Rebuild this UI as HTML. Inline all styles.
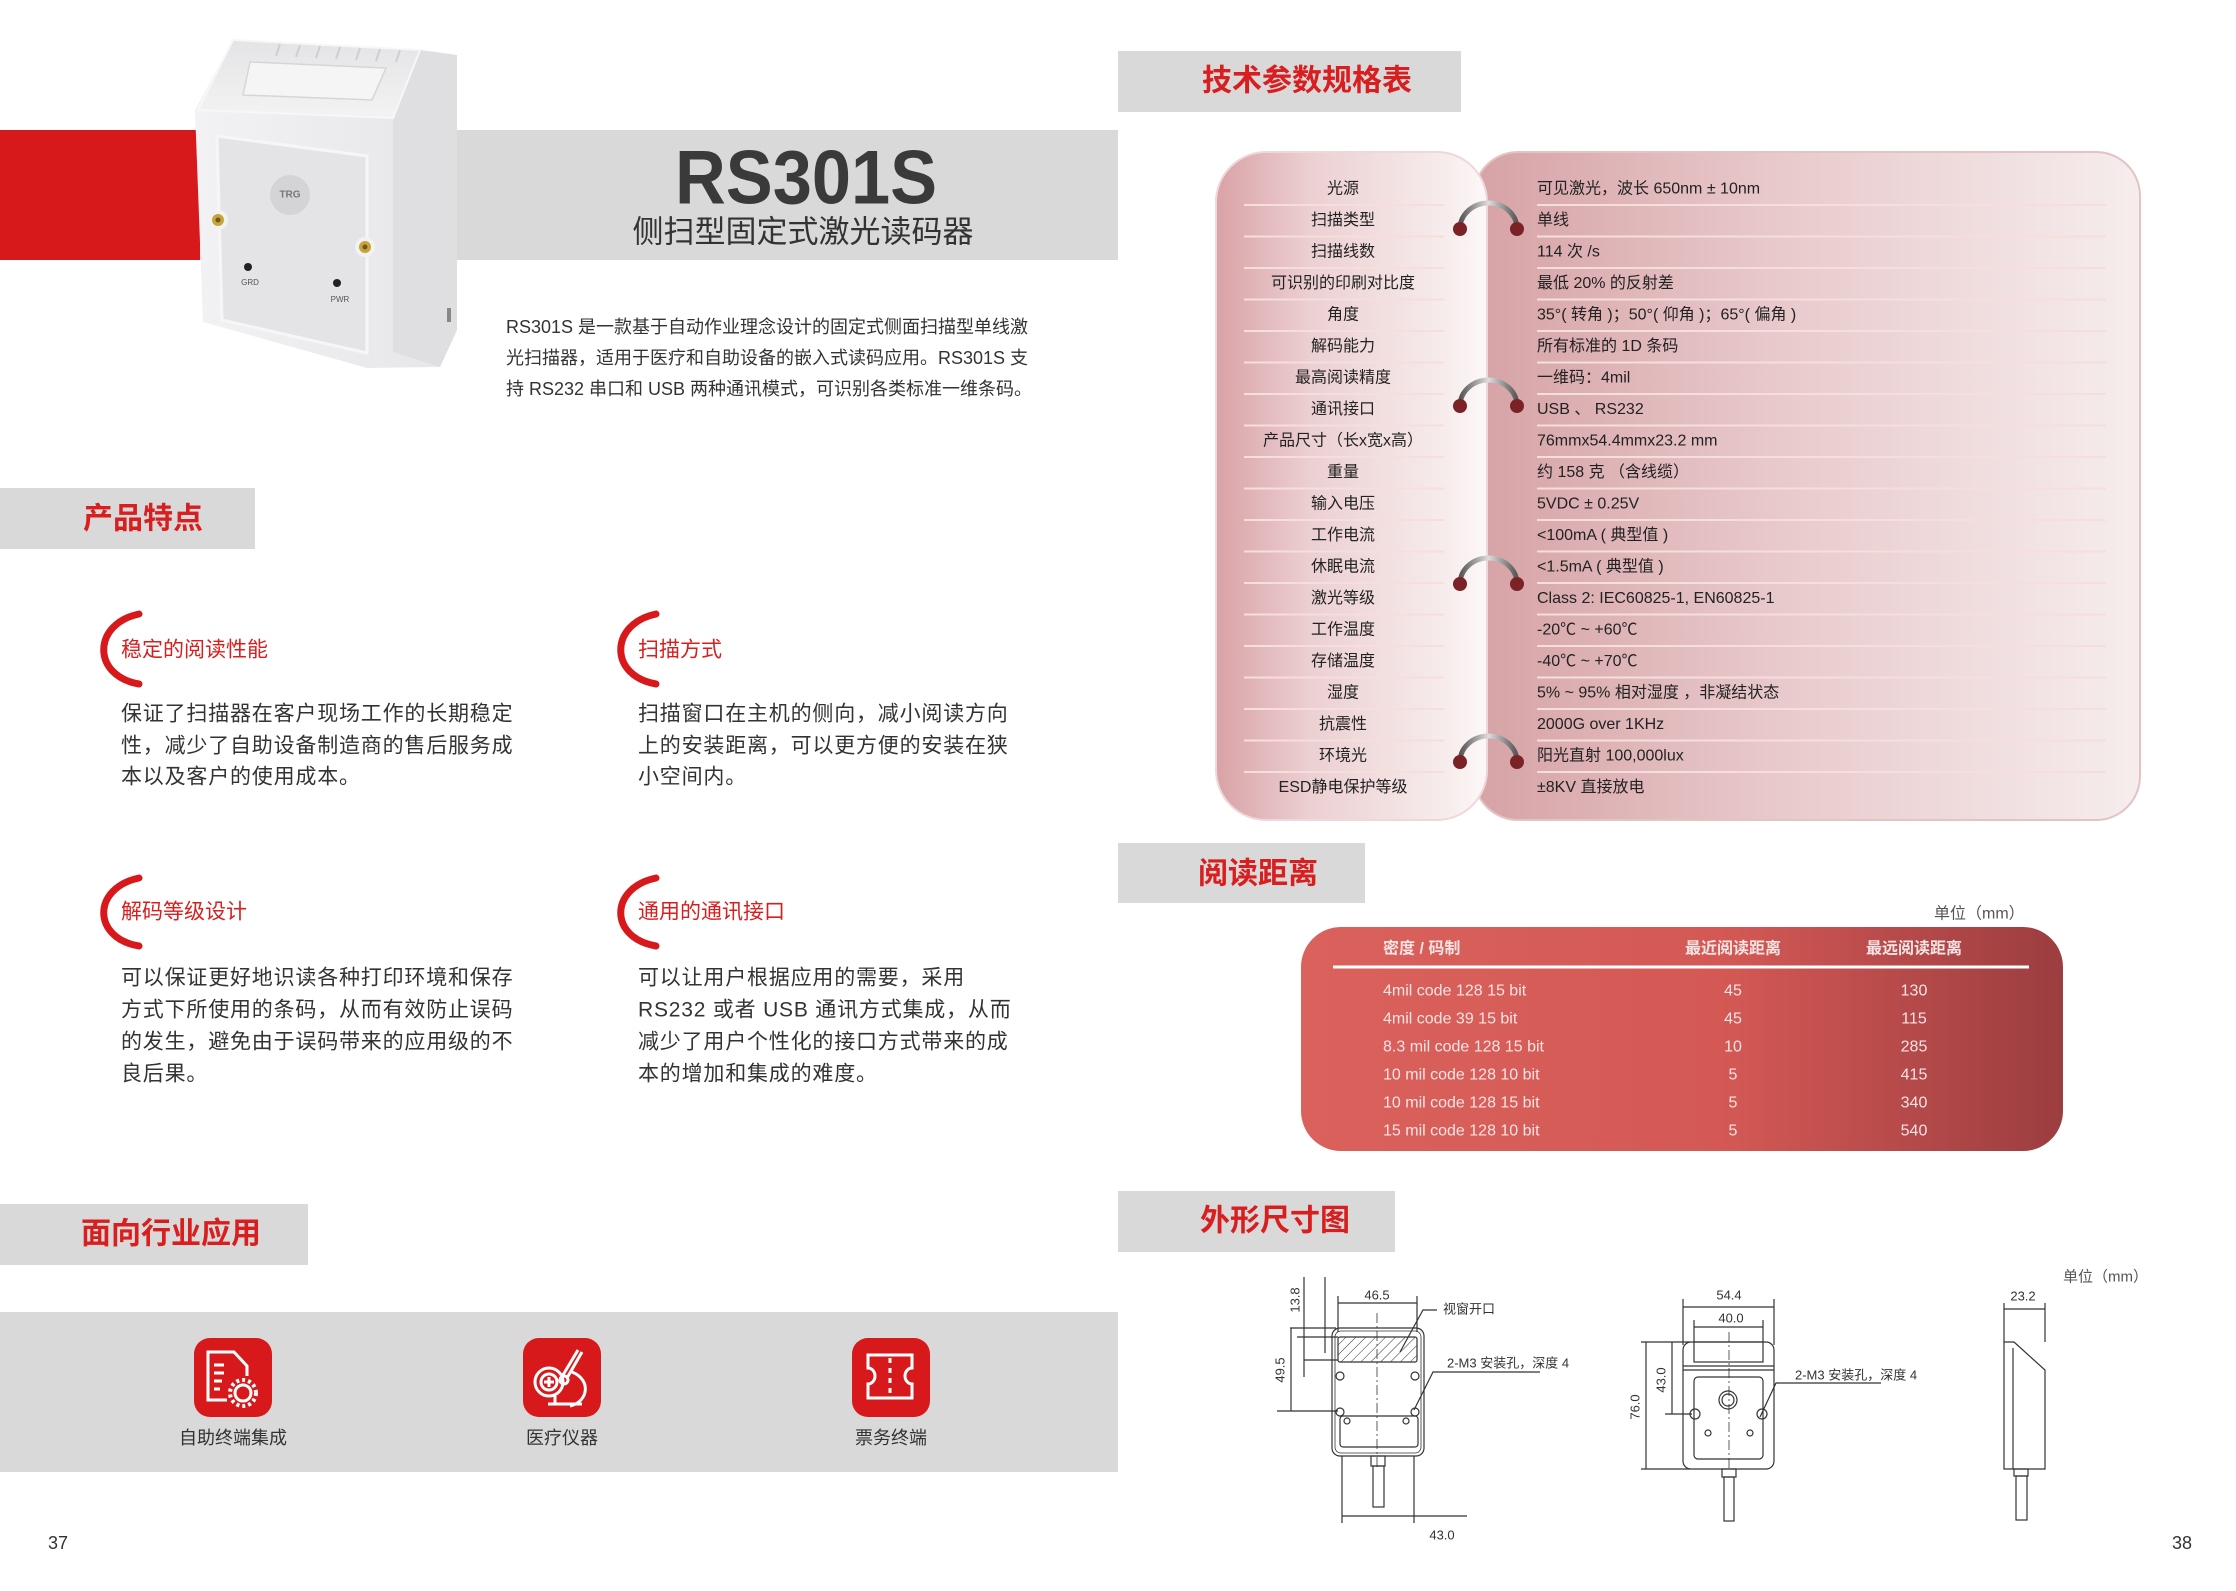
<!DOCTYPE html>
<html><head><meta charset="utf-8"><style>
html,body{margin:0;padding:0;background:#fff;}
svg{display:block;}
text{font-family:"Liberation Sans","Noto Sans CJK SC",sans-serif;}
</style></head><body>
<svg width="2236" height="1591" viewBox="0 0 2236 1591" xmlns="http://www.w3.org/2000/svg">
<defs>
<linearGradient id="lp" x1="0" y1="0" x2="1" y2="0">
<stop offset="0" stop-color="#d9a2a6"/><stop offset="0.35" stop-color="#ecd0d2"/><stop offset="0.85" stop-color="#f7ecec"/><stop offset="1" stop-color="#fdf8f8"/></linearGradient>
<linearGradient id="rp" x1="0" y1="0" x2="1" y2="0">
<stop offset="0" stop-color="#d6a2a5"/><stop offset="0.45" stop-color="#e8c9cb"/><stop offset="1" stop-color="#f6eded"/></linearGradient>
<linearGradient id="rt" x1="0" y1="0" x2="1" y2="0">
<stop offset="0" stop-color="#da615c"/><stop offset="0.55" stop-color="#d45955"/><stop offset="1" stop-color="#9c3d40"/></linearGradient>
<linearGradient id="ring" x1="0" y1="0" x2="1" y2="0">
<stop offset="0" stop-color="#555"/><stop offset="0.5" stop-color="#ddd"/><stop offset="1" stop-color="#555"/></linearGradient>
<linearGradient id="dev" x1="0" y1="0" x2="1" y2="0">
<stop offset="0" stop-color="#f2f2f4"/><stop offset="1" stop-color="#e6e6e8"/></linearGradient>
<linearGradient id="topf" x1="0" y1="0" x2="0" y2="1">
<stop offset="0" stop-color="#e4e4e6"/><stop offset="1" stop-color="#f3f3f4"/></linearGradient>
<pattern id="hatch" width="7" height="7" patternUnits="userSpaceOnUse" patternTransform="rotate(45)">
<line x1="0" y1="0" x2="0" y2="7" stroke="#333" stroke-width="1"/></pattern>
</defs>

<!-- top banner -->
<rect x="0" y="130" width="200" height="130" fill="#d7191b"/>
<rect x="200" y="130" width="918" height="130" fill="#d9d9d9"/>
<text x="806" y="178" font-size="76" font-weight="bold" fill="#3a3a3a" text-anchor="middle" dominant-baseline="central" textLength="262" lengthAdjust="spacingAndGlyphs">RS301S</text>
<text x="803" y="232" font-size="31" fill="#333" text-anchor="middle" dominant-baseline="central">侧扫型固定式激光读码器</text>

<!-- device -->
<polygon points="233,40 420,50 457,55 457,330 440,367 367,368 203,322 195,110" fill="url(#dev)"/>
<polygon points="393,118 420,50 457,55 457,330 440,367 393,352" fill="#dfdfe2"/>
<polygon points="233,40 420,50 393,118 198,110" fill="url(#topf)" stroke="#f7f7f8" stroke-width="2"/>
<g stroke="#cfcfd2" stroke-width="2">
<line x1="280" y1="44" x2="276" y2="56"/><line x1="300" y1="45" x2="296" y2="57"/><line x1="320" y1="46" x2="316" y2="58"/><line x1="340" y1="47" x2="336" y2="59"/><line x1="360" y1="48" x2="356" y2="60"/><line x1="380" y1="49" x2="376" y2="61"/><line x1="400" y1="50" x2="396" y2="62"/>
</g>
<polygon points="250,62 386,68 372,100 243,95" fill="#f5f5f6" stroke="#d6d6d8" stroke-width="1.5"/>
<polygon points="217,136 367,156 367,353 222,320" fill="#e4e4e6" stroke="#f6f6f7" stroke-width="3"/>
<circle cx="290" cy="195" r="20" fill="#d4d4d6"/>
<text x="290" y="195" font-size="10" font-weight="bold" fill="#777" text-anchor="middle" dominant-baseline="central">TRG</text>
<circle cx="218" cy="220" r="10" fill="#f2f2f3"/><circle cx="218" cy="220" r="6" fill="#c9a23a"/><circle cx="218" cy="220" r="2.5" fill="#6b5a20"/>
<circle cx="365" cy="247" r="10" fill="#f2f2f3"/><circle cx="365" cy="247" r="6" fill="#c9a23a"/><circle cx="365" cy="247" r="2.5" fill="#6b5a20"/>
<circle cx="248" cy="267" r="4" fill="#222"/><circle cx="337" cy="283" r="4" fill="#222"/>
<text x="250" y="285" font-size="8" fill="#555" text-anchor="middle">GRD</text>
<text x="340" y="302" font-size="8" fill="#555" text-anchor="middle">PWR</text>
<rect x="447" y="308" width="4" height="14" fill="#888"/>

<!-- description -->
<g font-size="18" fill="#333">
<text x="506" y="333">RS301S 是一款基于自动作业理念设计的固定式侧面扫描型单线激</text>
<text x="506" y="364">光扫描器，适用于医疗和自助设备的嵌入式读码应用。RS301S 支</text>
<text x="506" y="395">持 RS232 串口和 USB 两种通讯模式，可识别各类标准一维条码。</text>
</g>

<!-- section headers -->
<rect x="0" y="488" width="255" height="61" fill="#d9d9d9"/>
<text x="143" y="519" font-size="30" font-weight="bold" fill="#d81e1e" text-anchor="middle" dominant-baseline="central">产品特点</text>
<rect x="0" y="1204" width="308" height="61" fill="#d9d9d9"/>
<text x="171" y="1234" font-size="30" font-weight="bold" fill="#d81e1e" text-anchor="middle" dominant-baseline="central">面向行业应用</text>
<rect x="1118" y="51" width="343" height="61" fill="#d9d9d9"/>
<text x="1307" y="81" font-size="30" font-weight="bold" fill="#d81e1e" text-anchor="middle" dominant-baseline="central">技术参数规格表</text>
<rect x="1118" y="843" width="247" height="60" fill="#d9d9d9"/>
<text x="1258" y="874" font-size="30" font-weight="bold" fill="#d81e1e" text-anchor="middle" dominant-baseline="central">阅读距离</text>
<rect x="1118" y="1191" width="277" height="61" fill="#d9d9d9"/>
<text x="1275" y="1221" font-size="30" font-weight="bold" fill="#d81e1e" text-anchor="middle" dominant-baseline="central">外形尺寸图</text>

<!-- features -->
<g fill="none" stroke="#d7191b" stroke-width="7" stroke-linecap="round">
<path d="M139,614 C92,624 92,676 139,684"/>
<path d="M656,614 C609,624 609,676 656,684"/>
<path d="M139,878 C92,888 92,938 139,946"/>
<path d="M656,878 C609,888 609,938 656,946"/>
</g>
<g font-size="21" fill="#d81e1e" dominant-baseline="central">
<text x="121" y="650">稳定的阅读性能</text>
<text x="638" y="650">扫描方式</text>
<text x="121" y="912">解码等级设计</text>
<text x="638" y="912">通用的通讯接口</text>
</g>
<g font-size="21" fill="#333" dominant-baseline="central" letter-spacing="0.8">
<text x="121" y="714">保证了扫描器在客户现场工作的长期稳定</text>
<text x="121" y="746">性，减少了自助设备制造商的售后服务成</text>
<text x="121" y="777">本以及客户的使用成本。</text>
<text x="638" y="714">扫描窗口在主机的侧向，减小阅读方向</text>
<text x="638" y="746">上的安装距离，可以更方便的安装在狭</text>
<text x="638" y="777">小空间内。</text>
<text x="121" y="978">可以保证更好地识读各种打印环境和保存</text>
<text x="121" y="1010">方式下所使用的条码，从而有效防止误码</text>
<text x="121" y="1042">的发生，避免由于误码带来的应用级的不</text>
<text x="121" y="1074">良后果。</text>
<text x="638" y="978">可以让用户根据应用的需要，采用</text>
<text x="638" y="1010">RS232 或者 USB 通讯方式集成，从而</text>
<text x="638" y="1042">减少了用户个性化的接口方式带来的成</text>
<text x="638" y="1074">本的增加和集成的难度。</text>
</g>

<!-- industry band -->
<rect x="0" y="1312" width="1118" height="160" fill="#d9d9d9"/>
<g>
<rect x="194" y="1338" width="78" height="79" rx="16" fill="#d7191b"/>
<rect x="523" y="1338" width="78" height="79" rx="16" fill="#d7191b"/>
<rect x="852" y="1338" width="78" height="79" rx="16" fill="#d7191b"/>
</g>
<g fill="none" stroke="#fff" stroke-width="3">
<path d="M227,1400 H208 V1352 H234 L247,1366 V1376"/>
<line x1="214" y1="1365" x2="224" y2="1365"/><line x1="214" y1="1373" x2="224" y2="1373"/><line x1="214" y1="1381" x2="222" y2="1381"/><line x1="214" y1="1389" x2="220" y2="1389"/>
<circle cx="243" cy="1393" r="8"/><circle cx="243" cy="1393" r="13" stroke-dasharray="3 3" stroke-width="4"/>
<circle cx="549" cy="1382" r="14"/><circle cx="549" cy="1382" r="8"/>
<line x1="549" y1="1377" x2="549" y2="1387"/><line x1="544" y1="1382" x2="554" y2="1382"/>
<path d="M563,1375 L578,1350 M582,1352 L567,1378"/><circle cx="564" cy="1380" r="4"/>
<path d="M572,1372 C592,1380 588,1402 570,1406"/><line x1="548" y1="1404" x2="582" y2="1404"/><line x1="555" y1="1396" x2="555" y2="1404"/>
<path d="M868,1355 H912 V1368 A7,8 0 0 0 912,1384 V1398 H868 V1384 A7,8 0 0 0 868,1368 Z"/>
<line x1="890" y1="1358" x2="890" y2="1396" stroke-dasharray="5 5"/>
</g>
<g font-size="18" fill="#333" text-anchor="middle" dominant-baseline="central">
<text x="233" y="1438">自助终端集成</text>
<text x="562" y="1438">医疗仪器</text>
<text x="891" y="1438">票务终端</text>
</g>
<text x="48" y="1549" font-size="18" fill="#333">37</text>
<text x="2172" y="1549" font-size="18" fill="#333">38</text>

<!-- spec table -->
<rect x="1474" y="152" width="666" height="668" rx="44" fill="url(#rp)" stroke="#e2c4c5" stroke-width="2"/>
<rect x="1216" y="152" width="271" height="668" rx="50" fill="url(#lp)" stroke="#eed8d9" stroke-width="2"/>
<g stroke="#f6dedc" stroke-width="2">
<line x1="1244" y1="205" x2="1444" y2="205"/><line x1="1537" y1="205" x2="2106" y2="205"/>
<line x1="1244" y1="236.5" x2="1444" y2="236.5"/><line x1="1537" y1="236.5" x2="2106" y2="236.5"/>
<line x1="1244" y1="268" x2="1444" y2="268"/><line x1="1537" y1="268" x2="2106" y2="268"/>
<line x1="1244" y1="299.5" x2="1444" y2="299.5"/><line x1="1537" y1="299.5" x2="2106" y2="299.5"/>
<line x1="1244" y1="331" x2="1444" y2="331"/><line x1="1537" y1="331" x2="2106" y2="331"/>
<line x1="1244" y1="362.5" x2="1444" y2="362.5"/><line x1="1537" y1="362.5" x2="2106" y2="362.5"/>
<line x1="1244" y1="394" x2="1444" y2="394"/><line x1="1537" y1="394" x2="2106" y2="394"/>
<line x1="1244" y1="425.5" x2="1444" y2="425.5"/><line x1="1537" y1="425.5" x2="2106" y2="425.5"/>
<line x1="1244" y1="457" x2="1444" y2="457"/><line x1="1537" y1="457" x2="2106" y2="457"/>
<line x1="1244" y1="488.5" x2="1444" y2="488.5"/><line x1="1537" y1="488.5" x2="2106" y2="488.5"/>
<line x1="1244" y1="520" x2="1444" y2="520"/><line x1="1537" y1="520" x2="2106" y2="520"/>
<line x1="1244" y1="551.5" x2="1444" y2="551.5"/><line x1="1537" y1="551.5" x2="2106" y2="551.5"/>
<line x1="1244" y1="583" x2="1444" y2="583"/><line x1="1537" y1="583" x2="2106" y2="583"/>
<line x1="1244" y1="614.5" x2="1444" y2="614.5"/><line x1="1537" y1="614.5" x2="2106" y2="614.5"/>
<line x1="1244" y1="646" x2="1444" y2="646"/><line x1="1537" y1="646" x2="2106" y2="646"/>
<line x1="1244" y1="677.5" x2="1444" y2="677.5"/><line x1="1537" y1="677.5" x2="2106" y2="677.5"/>
<line x1="1244" y1="709" x2="1444" y2="709"/><line x1="1537" y1="709" x2="2106" y2="709"/>
<line x1="1244" y1="740.5" x2="1444" y2="740.5"/><line x1="1537" y1="740.5" x2="2106" y2="740.5"/>
<line x1="1244" y1="772" x2="1444" y2="772"/><line x1="1537" y1="772" x2="2106" y2="772"/>
</g>
<g>
<path d="M1460,229 A28.5,26 0 0 1 1517,229" fill="none" stroke="url(#ring)" stroke-width="5"/><circle cx="1460" cy="229" r="7" fill="#7a2226"/><circle cx="1517" cy="229" r="7" fill="#7a2226"/>
<path d="M1460,406 A28.5,26 0 0 1 1517,406" fill="none" stroke="url(#ring)" stroke-width="5"/><circle cx="1460" cy="406" r="7" fill="#7a2226"/><circle cx="1517" cy="406" r="7" fill="#7a2226"/>
<path d="M1460,584 A28.5,26 0 0 1 1517,584" fill="none" stroke="url(#ring)" stroke-width="5"/><circle cx="1460" cy="584" r="7" fill="#7a2226"/><circle cx="1517" cy="584" r="7" fill="#7a2226"/>
<path d="M1460,762 A28.5,26 0 0 1 1517,762" fill="none" stroke="url(#ring)" stroke-width="5"/><circle cx="1460" cy="762" r="7" fill="#7a2226"/><circle cx="1517" cy="762" r="7" fill="#7a2226"/>
</g>
<g font-size="16" fill="#222" text-anchor="middle" dominant-baseline="central">
<text x="1343" y="189">光源</text><text x="1343" y="220.5">扫描类型</text><text x="1343" y="252">扫描线数</text>
<text x="1343" y="283.5">可识别的印刷对比度</text><text x="1343" y="315">角度</text><text x="1343" y="346.5">解码能力</text>
<text x="1343" y="378">最高阅读精度</text><text x="1343" y="409.5">通讯接口</text><text x="1343" y="441">产品尺寸（长x宽x高）</text>
<text x="1343" y="472.5">重量</text><text x="1343" y="504">输入电压</text><text x="1343" y="535.5">工作电流</text>
<text x="1343" y="567">休眠电流</text><text x="1343" y="598.5">激光等级</text><text x="1343" y="630">工作温度</text>
<text x="1343" y="661.5">存储温度</text><text x="1343" y="693">湿度</text><text x="1343" y="724.5">抗震性</text>
<text x="1343" y="756">环境光</text><text x="1343" y="787.5">ESD静电保护等级</text>
</g>
<g font-size="16" fill="#222" dominant-baseline="central">
<text x="1537" y="189">可见激光，波长 650nm ± 10nm</text><text x="1537" y="220.5">单线</text><text x="1537" y="252">114 次 /s</text>
<text x="1537" y="283.5">最低 20% 的反射差</text><text x="1537" y="315">35°( 转角 )；50°( 仰角 )；65°( 偏角 )</text><text x="1537" y="346.5">所有标准的 1D 条码</text>
<text x="1537" y="378">一维码：4mil</text><text x="1537" y="409.5">USB 、 RS232</text><text x="1537" y="441">76mmx54.4mmx23.2 mm</text>
<text x="1537" y="472.5">约 158 克 （含线缆）</text><text x="1537" y="504">5VDC ± 0.25V</text><text x="1537" y="535.5">&lt;100mA ( 典型值 )</text>
<text x="1537" y="567">&lt;1.5mA ( 典型值 )</text><text x="1537" y="598.5">Class 2: IEC60825-1, EN60825-1</text><text x="1537" y="630">-20℃ ~ +60℃</text>
<text x="1537" y="661.5">-40℃ ~ +70℃</text><text x="1537" y="693">5% ~ 95% 相对湿度 ，非凝结状态</text><text x="1537" y="724.5">2000G over 1KHz</text>
<text x="1537" y="756">阳光直射 100,000lux</text><text x="1537" y="787.5">±8KV 直接放电</text>
</g>

<!-- reading distance -->
<text x="1934" y="914" font-size="16" fill="#555" dominant-baseline="central">单位（mm）</text>
<rect x="1301" y="927" width="762" height="224" rx="40" fill="url(#rt)"/>
<line x1="1333" y1="967" x2="2029" y2="967" stroke="#fff" stroke-width="3"/>
<g font-size="16" font-weight="bold" fill="#f7e4e4" dominant-baseline="central">
<text x="1383" y="949">密度 / 码制</text>
<text x="1733" y="949" text-anchor="middle">最近阅读距离</text>
<text x="1914" y="949" text-anchor="middle">最远阅读距离</text>
</g>
<g font-size="16" fill="#f7e4e4" dominant-baseline="central">
<text x="1383" y="991">4mil code 128 15 bit</text><text x="1733" y="991" text-anchor="middle">45</text><text x="1914" y="991" text-anchor="middle">130</text>
<text x="1383" y="1019">4mil code 39 15 bit</text><text x="1733" y="1019" text-anchor="middle">45</text><text x="1914" y="1019" text-anchor="middle">115</text>
<text x="1383" y="1047">8.3 mil code 128 15 bit</text><text x="1733" y="1047" text-anchor="middle">10</text><text x="1914" y="1047" text-anchor="middle">285</text>
<text x="1383" y="1075">10 mil code 128 10 bit</text><text x="1733" y="1075" text-anchor="middle">5</text><text x="1914" y="1075" text-anchor="middle">415</text>
<text x="1383" y="1103">10 mil code 128 15 bit</text><text x="1733" y="1103" text-anchor="middle">5</text><text x="1914" y="1103" text-anchor="middle">340</text>
<text x="1383" y="1131">15 mil code 128 10 bit</text><text x="1733" y="1131" text-anchor="middle">5</text><text x="1914" y="1131" text-anchor="middle">540</text>
</g>

<!-- dimension drawings -->
<text x="2063" y="1277" font-size="15" fill="#555" dominant-baseline="central">单位（mm）</text>
<g fill="none" stroke="#333" stroke-width="1.2">
<rect x="1332" y="1328" width="92" height="128" rx="8"/>
<rect x="1335" y="1331" width="86" height="122" rx="6" stroke-width="0.8"/>
<rect x="1338" y="1337" width="79" height="25" rx="2" fill="url(#hatch)"/>
<rect x="1340" y="1416" width="78" height="31" rx="3"/>
<circle cx="1340" cy="1376" r="4"/><circle cx="1415" cy="1376" r="4"/><circle cx="1340" cy="1412" r="4"/><circle cx="1415" cy="1412" r="4"/><circle cx="1347" cy="1421" r="3"/><circle cx="1406" cy="1421" r="3"/>
<rect x="1371" y="1456" width="14" height="10"/><rect x="1373" y="1466" width="11" height="41"/>
<line x1="1377" y1="1313" x2="1377" y2="1470" stroke-dasharray="10 3 2 3" stroke-width="0.8"/>
<line x1="1338" y1="1296" x2="1338" y2="1332"/><line x1="1417" y1="1296" x2="1417" y2="1332"/><line x1="1338" y1="1303" x2="1417" y2="1303"/>
<line x1="1304" y1="1277" x2="1304" y2="1377"/><line x1="1325" y1="1277" x2="1325" y2="1353"/>
<line x1="1290" y1="1328" x2="1336" y2="1328"/><line x1="1297" y1="1337" x2="1338" y2="1337"/><line x1="1304" y1="1360" x2="1338" y2="1360"/>
<line x1="1291" y1="1328" x2="1291" y2="1411"/><line x1="1277" y1="1411" x2="1338" y2="1411"/>
<line x1="1342" y1="1456" x2="1342" y2="1523"/><line x1="1414" y1="1456" x2="1414" y2="1523"/><line x1="1342" y1="1516" x2="1467" y2="1516"/>
<polyline points="1400,1352 1423,1310 1437,1310"/>
<polyline points="1414,1410 1433,1372 1540,1372"/>
<rect x="1683" y="1342" width="91" height="127" rx="8"/>
<rect x="1694" y="1342" width="69" height="20"/>
<line x1="1683" y1="1366" x2="1774" y2="1366"/><line x1="1683" y1="1370" x2="1774" y2="1370"/>
<rect x="1694" y="1377" width="69" height="82" rx="4"/>
<circle cx="1728" cy="1400" r="9"/><circle cx="1728" cy="1400" r="6"/>
<circle cx="1695" cy="1414" r="5"/><circle cx="1762" cy="1414" r="5"/>
<circle cx="1708" cy="1433" r="3"/><circle cx="1750" cy="1433" r="3"/>
<rect x="1722" y="1469" width="14" height="8"/><rect x="1724" y="1477" width="10" height="44"/>
<line x1="1729" y1="1332" x2="1729" y2="1470" stroke-dasharray="10 3 2 3" stroke-width="0.8"/>
<line x1="1683" y1="1299" x2="1683" y2="1345"/><line x1="1774" y1="1299" x2="1774" y2="1345"/><line x1="1683" y1="1307" x2="1774" y2="1307"/>
<line x1="1694" y1="1320" x2="1694" y2="1342"/><line x1="1763" y1="1320" x2="1763" y2="1342"/><line x1="1694" y1="1327" x2="1763" y2="1327"/>
<line x1="1646" y1="1342" x2="1646" y2="1469"/><line x1="1641" y1="1342" x2="1690" y2="1342"/><line x1="1641" y1="1469" x2="1690" y2="1469"/>
<line x1="1672" y1="1342" x2="1672" y2="1414"/><line x1="1665" y1="1414" x2="1692" y2="1414"/>
<polyline points="1760,1417 1776,1383 1881,1383"/>
<polygon points="2004,1342 2014,1342 2045,1370 2045,1469 2004,1469"/>
<line x1="2013" y1="1348" x2="2013" y2="1469"/>
<rect x="2014" y="1469" width="14" height="7"/><rect x="2016" y="1476" width="11" height="44"/>
<line x1="2004" y1="1303" x2="2004" y2="1342"/><line x1="2045" y1="1303" x2="2045" y2="1342"/><line x1="2004" y1="1309" x2="2045" y2="1309"/>
</g>
<g font-size="13" fill="#333" dominant-baseline="central">
<text x="1377" y="1295" text-anchor="middle">46.5</text>
<text x="1443" y="1309">视窗开口</text>
<text x="1447" y="1363">2-M3 安装孔，深度 4</text>
<text x="1442" y="1535" text-anchor="middle">43.0</text>
<text x="1729" y="1295" text-anchor="middle">54.4</text>
<text x="1731" y="1318" text-anchor="middle">40.0</text>
<text x="1795" y="1375">2-M3 安装孔，深度 4</text>
<text x="2023" y="1296" text-anchor="middle">23.2</text>
<text transform="translate(1295,1300) rotate(-90)" text-anchor="middle">13.8</text>
<text transform="translate(1280,1370) rotate(-90)" text-anchor="middle">49.5</text>
<text transform="translate(1635,1407) rotate(-90)" text-anchor="middle">76.0</text>
<text transform="translate(1661,1380) rotate(-90)" text-anchor="middle">43.0</text>
</g>
</svg>
</body></html>
